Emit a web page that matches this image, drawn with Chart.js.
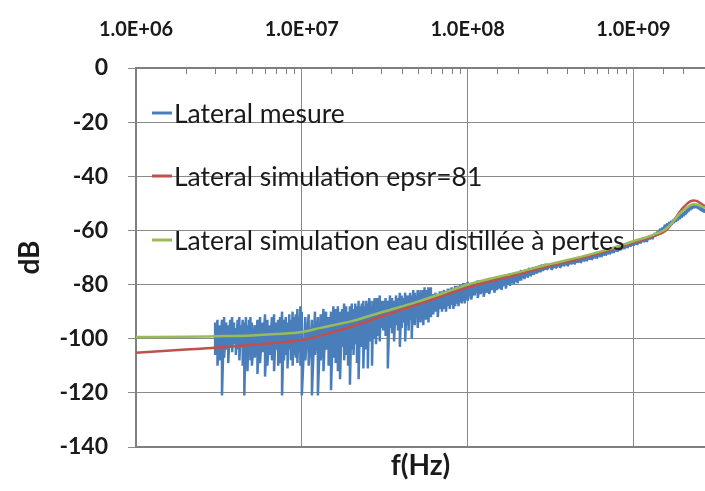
<!DOCTYPE html>
<html>
<head>
<meta charset="utf-8">
<script src="https://cdn.jsdelivr.net/npm/chart.js@4.4.1/dist/chart.umd.min.js"></script>
<style>
    html, body { margin: 0; padding: 0; background: #ffffff; }
    canvas { display: block; }
</style>
</head>
<body>
<canvas id="chart" width="705" height="491"></canvas>
<script>
// ======================================
// Data (frequencies in MHz, values in dB)
// ======================================

const seriesLabels = [
    "Lateral mesure",
    "Lateral simulation epsr=81",
    "Lateral simulation eau distillée à pertes"
];

const yTicks = [0, -20, -40, -60, -80, -100, -120, -140];

// measured trace: frequency bins with the top and bottom of the noisy trace in each bin
const blueMHz = [
    3.0, 3.1, 3.2, 3.3, 3.4, 3.5, 3.6, 3.7, 3.8, 3.9, 4.0, 4.1, 4.2, 4.3, 4.4, 4.5, 4.6, 4.7, 4.8, 4.9, 5.0,
    5.2, 5.4, 5.6, 5.8, 6.0, 6.2, 6.4, 6.6, 6.8, 7.0, 7.2, 7.4, 7.6, 7.8, 8.0, 8.2, 8.4, 8.6, 8.8, 9.0, 9.2, 9.4, 9.6, 9.8, 10.0,
    10.5, 11, 11.5, 12, 12.5, 13, 13.5, 14, 14.5, 15, 15.5, 16, 16.5, 17, 17.5, 18, 18.5, 19, 19.5, 20,
    20.5, 21, 21.5, 22, 22.5, 23, 23.5, 24, 24.5, 25, 25.5, 26, 26.5, 27, 27.5, 28, 28.5, 29, 29.5, 30,
    31, 32, 33, 34, 35, 36, 37, 38, 39, 40, 41, 42, 43, 44, 45, 46, 47, 48, 49, 50,
    51, 52, 53, 54, 55, 56, 57, 58, 59, 60,
    62, 64, 66, 68, 70, 72, 74, 76, 78, 80, 82, 84, 86, 88, 90, 92, 94, 96, 98, 100,
    105, 110, 115, 120, 125, 130, 135, 140, 145, 150, 155, 160, 165, 170, 175, 180, 185, 190, 195, 200,
    205, 210, 215, 220, 225, 230, 235, 240, 245, 250, 255, 260, 265, 270, 275, 280, 285, 290, 295, 300,
    320, 340, 360, 380, 400, 420, 440, 460, 480, 500, 520, 540, 560, 580, 600, 620, 640, 660, 680, 700,
    720, 740, 760, 780, 800, 820, 840, 860, 880, 900, 920, 940, 960, 980, 1000,
    1050, 1100, 1150, 1200, 1250, 1300, 1350, 1400, 1450, 1500, 1550, 1600, 1650, 1700, 1750, 1800, 1850,
    1900, 1950, 2000, 2050, 2100, 2150, 2200, 2250, 2300, 2350, 2400, 2450, 2500, 2550, 2600, 2650, 2700
];

const blueHi = [
    -94, -93, -95, -93, -92, -94, -95, -93, -92, -94, -96, -93, -92, -95, -93, -94, -92, -95, -93, -92, -94,
    -95, -93, -92, -94, -91, -93, -95, -92, -91, -94, -93, -92, -90, -93, -92, -94, -91, -93, -90, -92, -91, -89, -92, -88, -90,
    -92, -91, -93, -90, -92, -91, -89, -90, -92, -90, -88, -89, -88, -90, -89, -87, -88, -90, -88, -87,
    -89, -87, -88, -86, -88, -87, -86, -88, -86, -87, -85, -86, -88, -86, -85, -87, -85, -86, -84, -86,
    -86, -85, -86, -84, -85, -86, -84, -85, -83, -84, -85, -83, -84, -84, -83, -84, -82, -83, -84, -82,
    -83, -82, -83, -82, -81, -82, -83, -81, -82, -81,
    -83.5, -83, -83.5, -82.5, -82.5, -82, -82.5, -81.5, -81.5, -81, -81.5, -80.5, -80.5, -80.5, -80, -80, -79.5, -79.5, -79.5, -79,
    -79.5, -79.5, -78.5, -78.8, -78.4, -78.5, -77.6, -78, -77.5, -77.2, -77.3, -76.5, -76.8, -76.4, -76.5, -75.8, -76, -75.7, -75.5, -75.4,
    -75.2, -74.6, -74.9, -74.6, -74.5, -74.3, -73.8, -74.1, -73.9, -73.5, -73.6, -73.3, -73.2, -73, -72.9, -72.6, -72.7, -72.5, -72.3, -72.3,
    -72.5, -72.3, -71.8, -71.6, -71.1, -71, -70.6, -70.4, -70, -69.9, -69.5, -69.4, -69, -68.9, -68.5, -68.4, -68, -67.9, -67.5, -67.4,
    -67, -66.9, -66.6, -66.5, -66.1, -66, -65.7, -65.6, -65.3, -65.2, -64.9, -64.8, -64.5, -64.5, -64.2,
    -63.9, -63.4, -62.9, -62.9, -61.9, -61.9, -60.9, -60.4, -59.4, -58.9, -57.9, -57.4, -56.9, -56.4, -55.9, -55.4, -54.9,
    -54.4, -53.9, -53.4, -52.9, -52.2, -51.6, -51.1, -50.7, -50.4, -50.3, -50.4, -50.7, -51, -51.4, -51.7, -52, -52.2
];

const blueLo = [
    -106, -110, -108, -121, -107, -104, -109, -103, -105, -102, -106, -104, -108, -103, -110, -121, -107, -112, -105, -108, -110,
    -107, -113, -109, -105, -114, -110, -106, -108, -112, -104, -110, -109, -121, -108, -106, -111, -104, -108, -110, -106, -107, -109, -105, -110, -121,
    -108, -110, -121, -106, -121, -108, -112, -104, -110, -119, -107, -109, -112, -115, -103, -108, -106, -110, -117, -104,
    -106, -102, -109, -115, -101, -103, -111, -100, -104, -111, -99, -101, -110, -98, -100, -102, -97, -99, -101, -96,
    -97, -99, -111, -96, -98, -101, -95, -97, -103, -96, -94, -101, -95, -97, -93, -100, -94, -95, -92, -96,
    -93, -94, -91, -95, -92, -93, -91, -94, -90, -92,
    -91, -90, -92, -89, -90, -89, -90, -88, -89, -87.5, -89, -88, -87, -88, -86.5, -87, -86, -87, -85.5, -86,
    -85.5, -84, -85, -83.5, -84.5, -83, -83.5, -82, -83, -82, -81.5, -82, -80.5, -81.5, -80, -80.5, -79.5, -80, -79, -79.5,
    -78.5, -78.5, -77.5, -78, -77, -77.5, -76.5, -77, -76, -76.5, -75.5, -76, -75.5, -75, -75.5, -74.5, -75, -74.5, -74, -74.5,
    -74.5, -74, -73.8, -73.2, -73.2, -72.5, -72.5, -71.9, -72, -71.4, -71.4, -70.8, -70.9, -70.3, -70.4, -69.8, -69.8, -69.3, -69.3, -68.8,
    -68.8, -68.3, -68.3, -67.8, -67.9, -67.3, -67.3, -66.9, -66.9, -66.4, -66.5, -66, -66, -65.6, -65.6,
    -65.3, -64.8, -64.3, -64.3, -63.3, -63.3, -62.3, -61.8, -60.8, -60.3, -59.3, -58.8, -58.3, -57.8, -57.3, -56.8, -56.3,
    -55.8, -55.3, -54.8, -54.3, -53.6, -53, -52.5, -52.1, -51.8, -51.7, -51.8, -52.1, -52.4, -52.8, -53.1, -53.4, -53.6
];

// simulations
const simMHz = [
    1, 2, 3, 5, 7, 10, 13, 20, 30, 50, 70, 100, 200, 300, 500, 700, 1000,
    1200, 1400, 1500, 1600, 1700, 1800, 1900, 2000, 2100, 2200, 2300, 2400, 2500, 2600, 2700
];

const epsrDb = [
    -105.2, -104, -103.3, -102.3, -101.5, -100.5, -98.8, -95.5, -91.8, -87.3, -84.2, -81, -76.2, -73.3, -70, -67.4, -64.5,
    -63, -61.5, -60.8, -59.5, -57.5, -55.3, -53.2, -51.5, -50.2, -49.3, -48.9, -49.1, -49.7, -50.4, -51
];

const lossyDb = [
    -99.4, -99.3, -99.1, -98.8, -98.3, -97.5, -96, -93.5, -90.3, -86.3, -83.3, -80, -75.5, -72.7, -69.5, -67, -64,
    -62.5, -61, -60.2, -59, -57.3, -55.5, -53.8, -52.5, -51.5, -50.7, -50.3, -50.4, -50.8, -51.2, -51.6
];

// ======================================
// Style
// ======================================

const blue = "#4a7ebb";
const red = "#c0504d";
const green = "#9bbb59";
const textColor = "#1a1a1a";
const gridColor = "#8a8a8a";
const axisColor = "#7f7f7f";
const fontFamily = "Lato, 'Open Sans', sans-serif";

const xMin = 1e6;
const xMax = 2.7e9;

function isDecade(v) {
    const l = Math.log10(v);
    return Math.abs(l - Math.round(l)) < 1e-6;
}

function toPoints(mhz, db) {
    return mhz.map((f, i) => ({ x: f * 1e6, y: db[i] }));
}

// each bin drawn from its top to its bottom, then on to the next bin
function toTrace(mhz, hi, lo) {
    return mhz.flatMap((f, i) => [
        { x: f * 1e6, y: hi[i] },
        { x: f * 1e6, y: lo[i] }
    ]);
}

// ======================================
// Plugins: inner minor ticks + inner legend
// ======================================

const minorTicks = {
    id: "minorTicks",
    afterDraw(chart) {
        const ctx = chart.ctx;
        const scale = chart.scales.x;
        const top = chart.chartArea.top;
        ctx.save();
        ctx.strokeStyle = axisColor;
        ctx.lineWidth = 1;
        scale.ticks.forEach(t => {
            if (isDecade(t.value) || t.value >= xMax) return;
            const px = Math.round(scale.getPixelForValue(t.value)) + 0.5;
            ctx.beginPath();
            ctx.moveTo(px, top);
            ctx.lineTo(px, top + 6);
            ctx.stroke();
        });
        ctx.restore();
    }
};

const innerLegend = {
    id: "innerLegend",
    afterDraw(chart) {
        const ctx = chart.ctx;
        const area = chart.chartArea;
        const rows = [45, 108, 172];
        ctx.save();
        ctx.font = "26.5px " + fontFamily;
        ctx.textBaseline = "middle";
        ctx.fillStyle = textColor;
        chart.data.datasets.forEach((ds, i) => {
            const y = area.top + rows[i];
            ctx.strokeStyle = ds.borderColor;
            ctx.lineWidth = 3;
            ctx.beginPath();
            ctx.moveTo(area.left + 16, y);
            ctx.lineTo(area.left + 36, y);
            ctx.stroke();
            ctx.fillText(ds.label, area.left + 38, y + 1);
        });
        ctx.restore();
    }
};

// ======================================
// Chart
// ======================================

new Chart(document.getElementById("chart"), {

    type: "line",

    data: {
        datasets: [
            {
                label: seriesLabels[0],
                data: toTrace(blueMHz, blueHi, blueLo),
                borderColor: blue,
                borderWidth: 2.5,
                borderJoinStyle: "bevel",
                pointRadius: 0,
                tension: 0,
                order: 3
            },
            {
                label: seriesLabels[1],
                data: toPoints(simMHz, epsrDb),
                borderColor: red,
                borderWidth: 2.5,
                pointRadius: 0,
                cubicInterpolationMode: "monotone",
                order: 2
            },
            {
                label: seriesLabels[2],
                data: toPoints(simMHz, lossyDb),
                borderColor: green,
                borderWidth: 2.5,
                pointRadius: 0,
                cubicInterpolationMode: "monotone",
                order: 1
            }
        ]
    },

    options: {
        responsive: false,
        animation: false,
        layout: { padding: 0 },
        plugins: {
            legend: { display: false },
            tooltip: { enabled: false }
        },
        scales: {
            x: {
                type: "logarithmic",
                position: "top",
                min: xMin,
                max: xMax,
                afterFit(scale) {
                    scale.height = 68;
                    scale.paddingLeft = 0;
                    scale.paddingRight = 0;
                },
                border: { color: axisColor, width: 2 },
                grid: {
                    drawTicks: false,
                    color: c => (c.tick && isDecade(c.tick.value)) ? gridColor : "rgba(0,0,0,0)"
                },
                ticks: {
                    autoSkip: false,
                    maxRotation: 0,
                    minRotation: 0,
                    padding: 26,
                    color: textColor,
                    font: { family: fontFamily, size: 20, weight: "bold" },
                    callback: v => isDecade(v)
                        ? v.toExponential(1).toUpperCase().replace(/E\+(\d)$/, "E+0$1")
                        : ""
                }
            },
            x2: {
                type: "logarithmic",
                position: "bottom",
                min: xMin,
                max: xMax,
                afterFit(scale) {
                    scale.height = 44;
                    scale.paddingLeft = 0;
                    scale.paddingRight = 0;
                },
                border: { display: true, color: axisColor, width: 2 },
                grid: { display: false },
                ticks: { display: false },
                title: {
                    display: true,
                    text: "f(Hz)",
                    color: textColor,
                    font: { family: fontFamily, size: 28, weight: "bold" },
                    padding: { top: 0, bottom: 8 }
                }
            },
            y: {
                min: -140,
                max: 0,
                afterFit(scale) { scale.width = 136; },
                afterBuildTicks(scale) {
                    scale.ticks = yTicks.map(v => ({ value: v }));
                },
                border: { color: axisColor, width: 2 },
                grid: {
                    color: gridColor,
                    tickLength: 8
                },
                ticks: {
                    padding: 20,
                    color: textColor,
                    font: { family: fontFamily, size: 23, weight: "bold" }
                },
                title: {
                    display: true,
                    text: "dB",
                    color: textColor,
                    font: { family: fontFamily, size: 28, weight: "bold" },
                    padding: { top: 13, bottom: 0 }
                }
            }
        }
    },

    plugins: [minorTicks, innerLegend]

});
</script>
</body>
</html>
